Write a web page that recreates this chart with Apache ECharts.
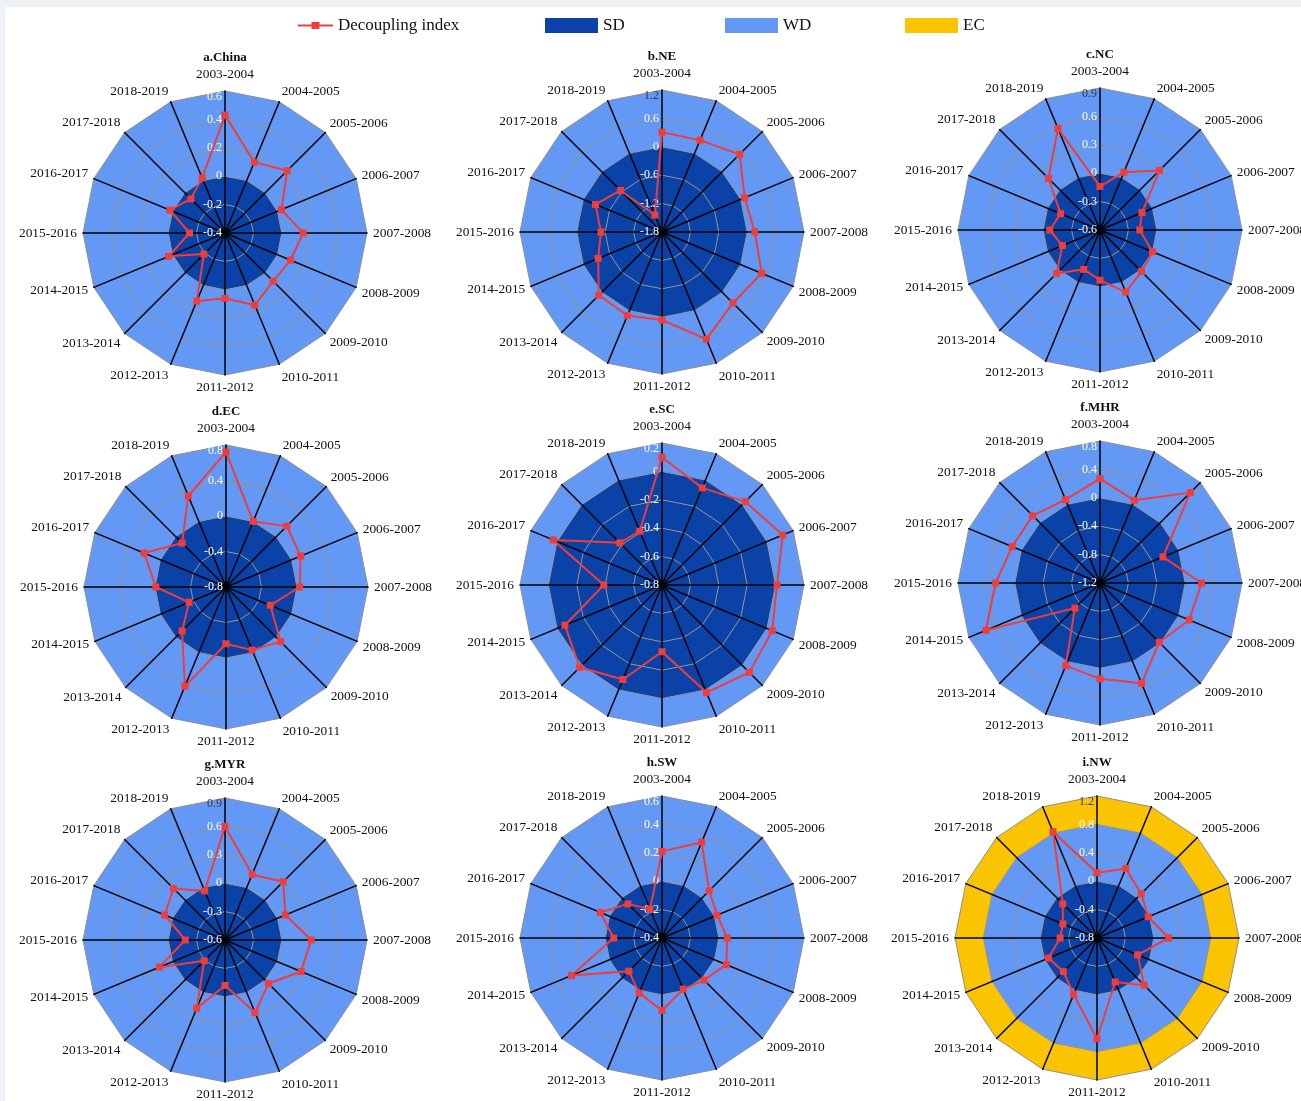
<!DOCTYPE html>
<html>
<head>
<meta charset="utf-8">
<title>Decoupling index by region, 2003-2019</title>
<script src="https://cdn.jsdelivr.net/npm/echarts@6/dist/echarts.min.js"></script>
<style>
  html, body { margin: 0; padding: 0; background: #ffffff; }
  #chart { position: absolute; left: 0; top: 0; width: 1301px; height: 1101px; }
  .edge-top { position: absolute; left: 0; top: 0; width: 1301px; height: 7px; background: #eef1f6; }
  .edge-left { position: absolute; left: 0; top: 0; width: 5px; height: 1101px; background: #eef1f6; }
</style>
</head>
<body>
<div id="chart"></div>
<div class="edge-top"></div>
<div class="edge-left"></div>
<script>
// ---- data ----
const periods = [
  '2003-2004', '2004-2005', '2005-2006', '2006-2007', '2007-2008', '2008-2009',
  '2009-2010', '2010-2011', '2011-2012', '2012-2013', '2013-2014', '2014-2015',
  '2015-2016', '2016-2017', '2017-2018', '2018-2019'
];

const regionTitles = ['a.China', 'b.NE', 'c.NC', 'd.EC', 'e.SC', 'f.MHR', 'g.MYR', 'h.SW', 'i.NW'];

const china = [0.43, 0.14, 0.22, 0.03, 0.15, 0.10, 0.08, 0.15, 0.06, 0.12, -0.19, 0.03, -0.15, 0.02, -0.06, 0.02];
const ne    = [0.31, 0.30, 0.52, 0.09, 0.16, 0.48, 0.32, 0.65, 0.06, 0.11, 0.09, -0.34, -0.51, -0.28, -0.56, -1.41];
const nc    = [-0.14, 0.06, 0.29, -0.12, -0.18, 0.00, 0.02, 0.11, -0.07, -0.15, 0.05, -0.17, -0.07, -0.15, 0.17, 0.56];
const ec    = [0.72, 0.00, 0.17, 0.11, 0.03, -0.26, 0.07, -0.03, -0.16, 0.41, -0.10, -0.35, -0.01, 0.20, -0.10, 0.31];
const sc    = [0.10, -0.06, 0.03, 0.12, 0.01, 0.04, 0.07, 0.02, -0.33, -0.08, 0.02, -0.06, -0.39, 0.03, -0.38, -0.39];
const mhr   = [0.27, 0.06, 0.60, -0.24, 0.23, 0.16, -0.02, 0.33, 0.15, 0.06, -0.70, 0.54, 0.27, 0.14, 0.14, 0.07];
const myr   = [0.60, 0.15, 0.27, 0.09, 0.31, 0.27, 0.05, 0.23, -0.12, 0.18, -0.29, 0.15, -0.18, 0.09, 0.17, -0.04];
const sw    = [0.21, 0.33, 0.07, 0.02, 0.06, 0.09, 0.02, -0.01, 0.11, 0.02, -0.07, 0.29, -0.06, 0.07, -0.06, -0.18];
const nw    = [0.12, 0.26, 0.08, -0.02, 0.21, -0.18, 0.14, -0.13, 0.62, 0.06, -0.13, -0.06, -0.28, -0.28, -0.12, 0.82];

const regionValues = [china, ne, nc, ec, sc, mhr, myr, sw, nw];

// radial axis range and tick step of each panel
const axisMin  = [-0.4, -1.8, -0.6, -0.8, -0.8, -1.2, -0.6, -0.4, -0.8];
const axisMax  = [0.6, 1.2, 0.9, 0.8, 0.2, 0.8, 0.9, 0.6, 1.2];
const axisStep = [0.2, 0.6, 0.3, 0.4, 0.2, 0.4, 0.3, 0.2, 0.4];

// decoupling state thresholds: SD < 0 <= WD < 0.8 <= EC
const stateNames = ['SD', 'WD', 'EC'];
const stateLimits = [0, 0.8];

// ---- styling / layout ----
const SERIF = '"Liberation Serif", "Times New Roman", serif';
const COLOR_SD = '#0a42a7';
const COLOR_WD = '#6399f5';
const COLOR_EC = '#fbc400';
const stateColors = [COLOR_SD, COLOR_WD, COLOR_EC];
const LINE_RED = '#ef3d3d';
const RADIUS = 142;
const centers = [
  [225, 233], [662, 232], [1100, 230],
  [226, 587], [662, 585], [1100, 583],
  [225, 940], [662, 938], [1097, 938]
];

// ECharts places radar indicators counter-clockwise; keep the first period on top
// and feed the rest reversed so the years run clockwise.
const order = [0].concat(periods.map((_, i) => periods.length - 1 - i).slice(0, periods.length - 1));

// extra vertical push (px) of each period name, by position around the dial
// (index = position counter-clockwise from the top spoke; + outward)
const namePush = [4, 5, 6, 3, 0, 1, 6, 6, 0, 8, 5, 4, 0, 1, 5, 5];

function stateOf(v) {
  let s = 0;
  while (s < stateLimits.length && v >= stateLimits[s] - 1e-9) s++;
  return s;
}

function ringColors(p) {
  const splits = Math.round((axisMax[p] - axisMin[p]) / axisStep[p]);
  const colors = [];
  for (let k = 0; k < splits; k++) colors.push(stateColors[stateOf(axisMin[p] + k * axisStep[p])]);
  return colors;
}

function tickText(v) {
  return String(parseFloat(Number(v).toFixed(2)));
}

const nameBase = { color: '#111', fontFamily: SERIF, fontSize: 13.4 };
const nameRich = {};
namePush.forEach((e, j) => {
  const a = (90 + j * 360 / periods.length) * Math.PI / 180;
  const s = Math.sin(a), c = Math.cos(a);
  let pad = [0, 0, 0, 0];
  if (Math.abs(c) < 1e-6) {
    pad = s > 0 ? [0, 0, e, 0] : [e, 0, 0, 0];
  } else if (s > 1e-6) {
    pad = [0, 0, 2 * e, 0];
  } else if (s < -1e-6) {
    pad = [2 * e, 0, 0, 0];
  }
  nameRich['p' + j] = Object.assign({ padding: pad }, nameBase);
});

const labelBase = { fontFamily: SERIF, fontSize: 12 };

const radars = regionTitles.map((name, p) => ({
  center: centers[p],
  radius: RADIUS,
  startAngle: 90,
  shape: 'polygon',
  splitNumber: Math.round((axisMax[p] - axisMin[p]) / axisStep[p]),
  indicator: order.map((idx, j) => {
    const ind = { name: periods[idx], min: axisMin[p], max: axisMax[p] };
    if (j === 0) {
      ind.axisLabel = {
        show: true,
        formatter: function (v) {
          const t = tickText(v);
          if (Math.abs(v - axisMax[p]) < 1e-9) {
            return '{' + (v > stateLimits[1] + 1e-9 ? 'topDark' : 'top') + '|' + t + '}';
          }
          return '{n|' + t + '}';
        }
      };
    }
    return ind;
  }),
  axisName: Object.assign({
    rich: nameRich,
    formatter: function (name) {
      const j = order.indexOf(periods.indexOf(name));
      return '{p' + j + '|' + name + '}';
    }
  }, nameBase),
  axisNameGap: 6,
  axisLine: { lineStyle: { color: '#000', width: 1.5 } },
  axisTick: { show: false },
  axisLabel: {
    show: false, color: '#ffffff', fontFamily: SERIF, fontSize: 12, margin: 3,
    rich: {
      n: Object.assign({ color: '#ffffff' }, labelBase),
      top: Object.assign({ color: '#ffffff', padding: [12, 0, 0, 0] }, labelBase),
      topDark: Object.assign({ color: '#3a3a3a', padding: [12, 0, 0, 0] }, labelBase)
    }
  },
  splitLine: { lineStyle: { color: '#8f8f8f', width: 1 } },
  splitArea: { show: true, areaStyle: { color: ringColors(p), opacity: 1 } }
}));

const titles = regionTitles.map((name, p) => ({
  text: name,
  left: centers[p][0],
  top: centers[p][1] - 182,
  textAlign: 'center',
  padding: 0,
  textStyle: { fontFamily: SERIF, fontSize: 13, fontWeight: 'bold', color: '#111' }
}));

const lineSeries = regionTitles.map((name, p) => ({
  type: 'radar',
  radarIndex: p,
  name: 'Decoupling index',
  symbol: 'rect',
  symbolSize: 7,
  lineStyle: { color: LINE_RED, width: 2 },
  itemStyle: { color: LINE_RED },
  z: 5,
  data: [{ value: order.map(i => regionValues[p][i]), name: name }]
}));

// empty series that only carry the band colours into the legend
const stateSeries = stateNames.map((s, k) => ({
  type: 'radar',
  radarIndex: 0,
  name: s,
  itemStyle: { color: stateColors[k] },
  data: []
}));

const legendText = { fontFamily: SERIF, fontSize: 17, color: '#111' };
const legends = [
  {
    left: 298, top: 17, padding: 0, selectedMode: false,
    itemWidth: 35, itemHeight: 10,
    icon: 'path://M0,4L35,4L35,6L0,6Z M13.5,1.5L21.5,1.5L21.5,8.5L13.5,8.5Z',
    data: [{ name: 'Decoupling index', itemStyle: { color: LINE_RED, borderWidth: 0 } }],
    textStyle: legendText
  }
].concat(stateNames.map((s, k) => ({
  left: [545, 725, 905][k], top: 17, padding: 0, selectedMode: false,
  itemWidth: 53, itemHeight: 15, icon: 'rect',
  data: [{ name: s, itemStyle: { color: stateColors[k], borderWidth: 0 } }],
  textStyle: legendText
})));

const chart = echarts.init(document.getElementById('chart'), null, { renderer: 'canvas' });
chart.setOption({
  backgroundColor: '#ffffff',
  animation: false,
  title: titles,
  legend: legends,
  radar: radars,
  series: lineSeries.concat(stateSeries)
});
</script>
</body>
</html>
